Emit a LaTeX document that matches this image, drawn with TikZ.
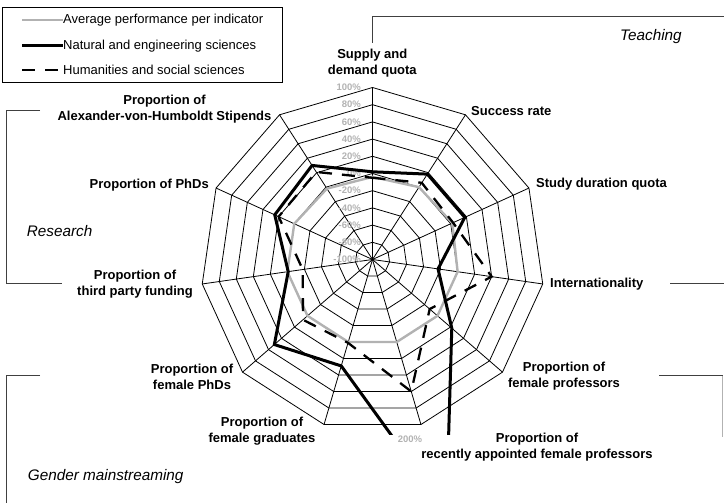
\documentclass[tikz,border=0pt]{standalone}
\usepackage{fontspec}
\setmainfont{Liberation Sans}
\usetikzlibrary{positioning}
\definecolor{avggray}{gray}{0.70}
\tikzset{
  axislabel/.style={font=\fontsize{13}{16}\selectfont\bfseries, align=center, inner sep=0pt},
  pctlabel/.style={font=\fontsize{9.5}{11}\selectfont\bfseries, text=avggray, inner sep=0pt},
  grouplabel/.style={font=\fontsize{15.3}{18}\selectfont\itshape, anchor=west, inner sep=0pt},
  legendtext/.style={font=\fontsize{13}{15}\selectfont, anchor=west, inner sep=0pt},
  bracket/.style={black!75, line width=0.9pt},
  avgline/.style={avggray, line width=2.4pt},
  natline/.style={black, line width=3pt},
  humline/.style={black, line width=2.3pt, dash pattern=on 13pt off 10pt},
}
\begin{document}
\begin{tikzpicture}[x=1pt, y=1pt]
        \useasboundingbox (0,0) rectangle (724,503);
        % legend
        \draw[line width=0.8pt] (2.7,495.7) rectangle (282.7,420.3);
        \node[legendtext] (avgtxt) at (63,483) {Average performance per indicator};
        \node[legendtext] (nattxt) at (63,457.3) {Natural and engineering sciences};
        \node[legendtext] (humtxt) at (63,433) {Humanities and social sciences};
        \draw[avgline] ([xshift=-41pt]avgtxt.west) -- (avgtxt.west);
        \draw[natline] ([xshift=-41pt]nattxt.west) -- (nattxt.west);
        \draw[humline] ([xshift=-41pt]humtxt.west) -- (humtxt.west);
        % radar
        \begin{scope}[shift={(372.5,243.5)}]
            \foreach \k in {1,...,10}{
                \draw[line width=0.8pt] (90:17.2*\k) \foreach \i in {1,...,10}{ -- (90-\i*360/11:17.2*\k) } -- cycle ;
            }
            \foreach \i in {0,...,10}
                \draw[line width=0.8pt] (0,0) -- (90-\i*360/11:172) ;
            \foreach \v [count=\k from 0] in {-100,-80,...,100}
                \node[pctlabel, anchor=east] at (-11.5,17.2*\k) {\v\%};
            \begin{scope}
                \clip (-372.5,-175.5) rectangle (351.5,259.5);
                \draw[avgline] (90:82.6) \foreach \v [count=\i] in {0,2,0,0,0,0,0,0,0,-2}{ -- (90-\i*360/11:{(\v+100)*0.86}) } -- cycle ;
                \draw[humline] (90:81.7) \foreach \v [count=\i] in {6,3,40,-12,60,1,7,-18,20,21}{ -- (90-\i*360/11:{(\v+100)*0.86}) } -- cycle ;
                \draw[natline] (90:87.7) \foreach \v [count=\i] in {18,18,-23,22,205,29,51,-1,25,30}{ -- (90-\i*360/11:{(\v+100)*0.86}) } -- cycle ;
            \end{scope}
        \end{scope}
        \node[pctlabel] (twohundred) at (410,63.7) {200\%};
        % indicator labels
        \node[axislabel] (supply) at (372.3,439.7) {Supply and\\demand quota};
        \node[axislabel, anchor=west] (success) at (471,392) {Success rate};
        \node[axislabel, anchor=west] (study) at (536,318.7) {Study duration quota};
        \node[axislabel, anchor=west] (intern) at (550,218.7) {Internationality};
        \node[axislabel] (femprof) at (564,126.7) {Proportion of\\female professors};
        \node[axislabel] (recent) at (537,56.3) {Proportion of\\recently appointed female professors};
        \node[axislabel] (femgrad) at (262,72.2) {Proportion of\\female graduates};
        \node[axislabel] (femphd) at (192,126) {Proportion of\\female PhDs};
        \node[axislabel] (thirdparty) at (135,219.3) {Proportion of\\third party funding};
        \node[axislabel, anchor=east] (phds) at (209,318) {Proportion of PhDs};
        \node[axislabel] (avh) at (164.5,393.7) {Proportion of\\Alexander-von-Humboldt Stipends};
        % groups
        \draw[bracket] (372.3,460) -- (372.3,487) -- (724,487) ;
        \node[grouplabel] (teaching) at (620,466.3) {Teaching};
        \draw[bracket] (40,392.3) -- (6.7,392.3) -- (6.7,219.7) -- (61.7,219.7) ;
        \node[grouplabel] (research) at (26.7,272) {Research};
        \draw[bracket] (40,128) -- (6,128) -- (6,0) ;
        \node[grouplabel] (gender) at (27.7,26.3) {Gender mainstreaming};
        \draw[bracket] (670,219.7) -- (724,219.7) ;
        \draw[bracket] (659.3,127.3) -- (722.7,127.3) ;
        \draw[black!30, line width=0.9pt] (722.7,127.3) -- (722.7,66.3) ;
\end{tikzpicture}
\end{document}
